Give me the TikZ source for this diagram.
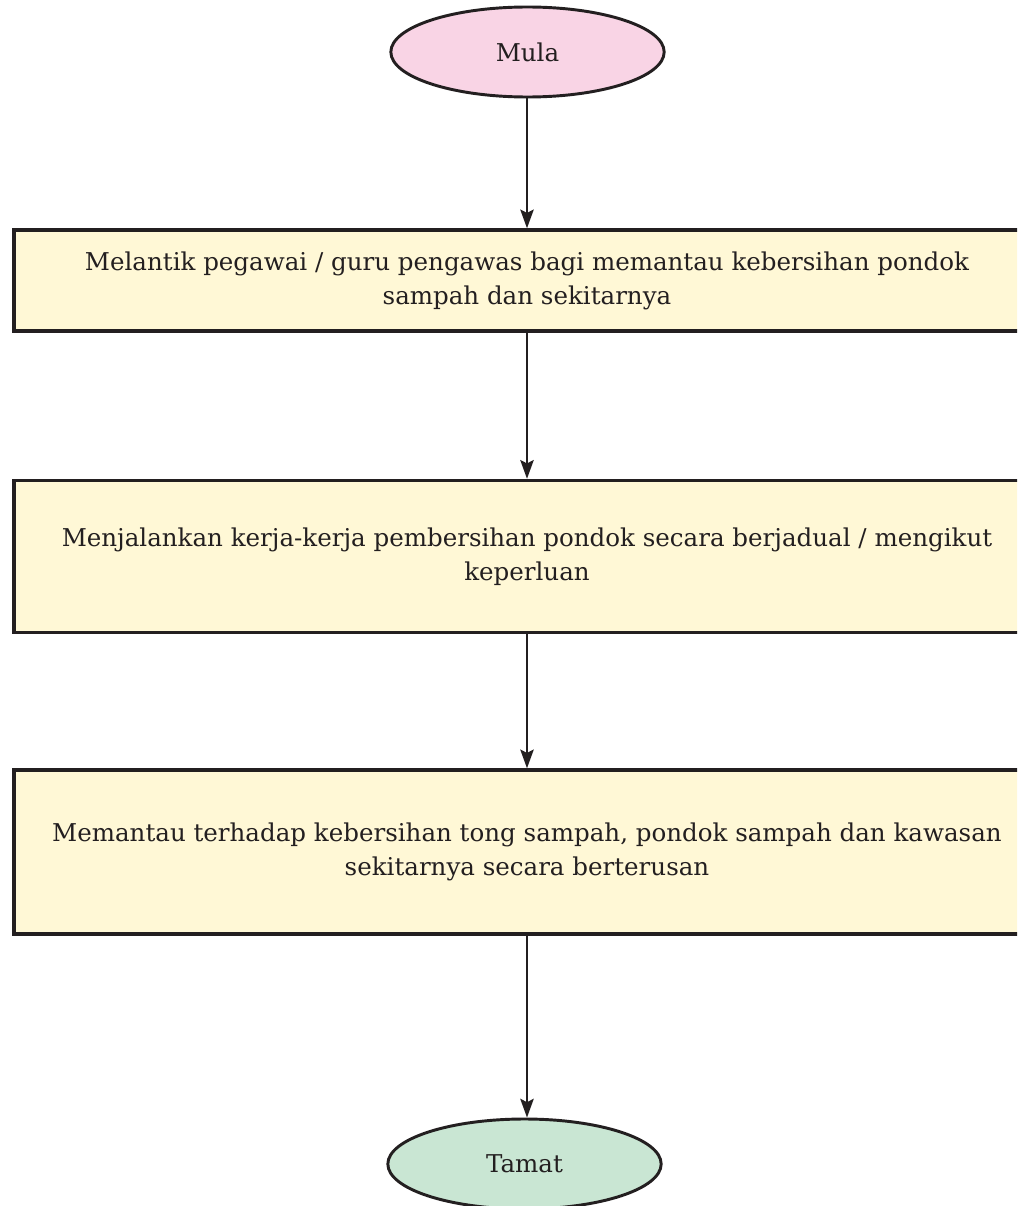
\documentclass[tikz,border=0pt]{standalone}
\usepackage{fontspec}
\setmainfont{DejaVu Serif}
\usetikzlibrary{arrows.meta,shapes.geometric}
\definecolor{ink}{HTML}{231F20}
\definecolor{startfill}{HTML}{F9D4E5}
\definecolor{endfill}{HTML}{C9E6D3}
\definecolor{stepfill}{HTML}{FFF8D6}
\tikzset{
  terminal/.style={ellipse, draw=ink, line width=2.2pt, minimum width=205pt, minimum height=67.5pt,
    inner sep=0pt, text=ink, font=\fontsize{18.4}{25.5}\selectfont},
  stepbox/.style={rectangle, draw=ink, line width=2.6pt, fill=stepfill, minimum width=769.5pt,
    inner sep=0pt, text=ink, align=center, font=\fontsize{18.4}{25.5}\selectfont},
  flow/.style={draw=ink, line width=1.9pt, -{Stealth[length=14pt,width=10pt,inset=2.5pt]}}
}
\begin{document}
\begin{tikzpicture}[x=0.75pt,y=-0.75pt]
  \path[use as bounding box] (0,0) rectangle (1017,1206);
  \clip (0,0) rectangle (1017,1206);
  \fill[white] (0,0) rectangle (1017,1206);

  \node[terminal, fill=startfill] (mula) at (527.5,52) {Mula};
  \node[stepbox, minimum height=75.75pt] (s1) at (527,280.5)
    {Melantik pegawai / guru pengawas bagi memantau kebersihan pondok\\sampah dan sekitarnya};
  \node[stepbox, minimum height=114pt] (s2) at (527,556.5)
    {Menjalankan kerja-kerja pembersihan pondok secara berjadual / mengikut\\keperluan};
  \node[stepbox, minimum height=123pt] (s3) at (527,852)
    {Memantau terhadap kebersihan tong sampah, pondok sampah dan kawasan\\sekitarnya secara berterusan};
  \node[terminal, fill=endfill] (tamat) at (524.5,1164) {Tamat};

  \draw[flow] (mula.south -| s1.north) -- (s1.north);
  \draw[flow] (s1.south) -- (s2.north);
  \draw[flow] (s2.south) -- (s3.north);
  \draw[flow] (s3.south) -- (s3.south |- tamat.north);
\end{tikzpicture}
\end{document}
